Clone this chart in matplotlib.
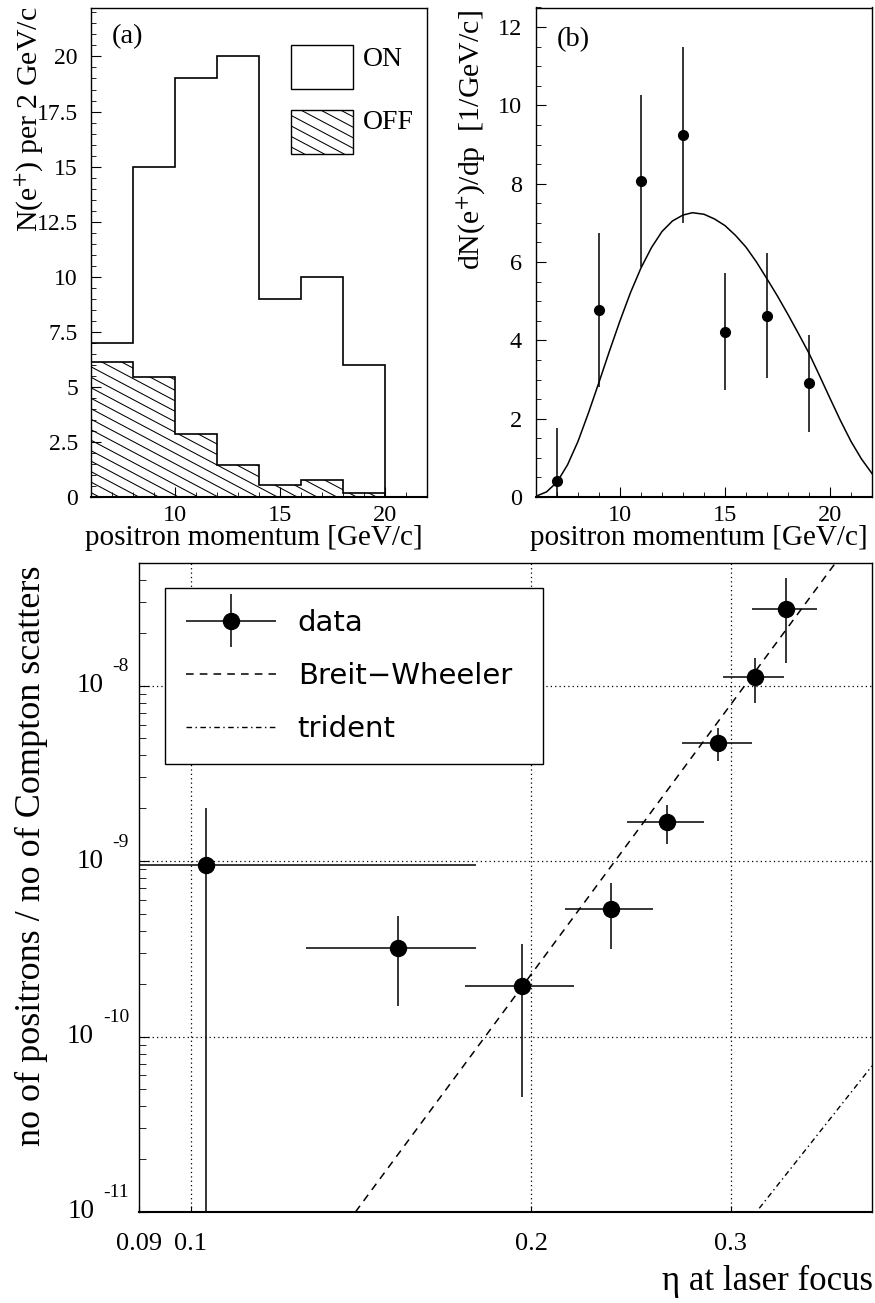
import numpy as np
import matplotlib
matplotlib.use("Agg")
import matplotlib.pyplot as plt
from matplotlib.ticker import (FixedLocator, FixedFormatter, MultipleLocator,
                               LogLocator, NullFormatter, NullLocator)
from matplotlib.patches import Rectangle
from matplotlib.legend_handler import HandlerErrorbar

plt.rcParams['font.family'] = ['Liberation Serif', 'DejaVu Serif']
plt.rcParams['mathtext.fontset'] = 'stix'

# (a) raw positron momentum spectra, laser ON / laser OFF, 2 GeV/c bins
edges_a = [6, 8, 10, 12, 14, 16, 18, 20, 22]
on_counts = [7, 15, 19, 20, 9, 10, 6, 0]
off_counts = [6.15, 5.45, 2.85, 1.47, 0.55, 0.75, 0.18, 0]
a_ticks = [0, 2.5, 5, 7.5, 10, 12.5, 15, 17.5, 20]
a_labels = ["0", "2.5", "5", "7.5", "10", "12.5", "15", "17.5", "20"]

# (b) background subtracted spectrum and simulation
p_mid = [7, 9, 11, 13, 15, 17, 19]
dndp = [0.41, 4.77, 8.07, 9.25, 4.22, 4.63, 2.90]
dndp_err = [1.35, 1.96, 2.20, 2.25, 1.50, 1.60, 1.24]
sim_p = [6.0, 6.5, 7.0, 7.5, 8.0, 8.5, 9.0, 9.5, 10.0, 10.5, 11.0, 11.5,
         12.0, 12.5, 13.0, 13.45, 14.0, 14.5, 15.0, 15.5, 16.0, 16.5, 17.0,
         17.5, 18.0, 18.5, 19.0, 19.5, 20.0, 20.5, 21.0, 21.5, 22.0]
sim_dndp = [0.02, 0.13, 0.38, 0.82, 1.42, 2.15, 2.93, 3.73, 4.5, 5.22, 5.85,
            6.37, 6.78, 7.05, 7.2, 7.26, 7.22, 7.1, 6.93, 6.68, 6.38, 6.0,
            5.57, 5.13, 4.66, 4.17, 3.67, 3.1, 2.52, 1.95, 1.42, 0.97, 0.6]

# (c) positron rate per Compton scatter vs eta
eta = [0.1031, 0.1525, 0.1962, 0.2350, 0.2636, 0.2923, 0.3150, 0.3355]
eta_lo = [0.085, 0.1263, 0.1748, 0.2142, 0.2428, 0.2718, 0.2953, 0.3133]
eta_hi = [0.1786, 0.1786, 0.2182, 0.2562, 0.2842, 0.3133, 0.3347, 0.3574]
rate = [0.95e-9, 3.21e-10, 1.93e-10, 5.33e-10, 1.67e-9, 4.74e-9, 1.125e-8, 2.73e-8]
rate_lo = [1e-12, 1.50e-10, 4.5e-11, 3.14e-10, 1.245e-9, 3.71e-9, 8.0e-9, 1.34e-8]
rate_hi = [2.0e-9, 4.88e-10, 3.37e-10, 7.52e-10, 2.10e-9, 5.77e-9, 1.443e-8, 4.09e-8]
bw_eta = [0.1398, 0.3713]
bw_rate = [1e-11, 5e-8]
tri_eta = [0.318, 0.40]
tri_rate = [1.05e-11, 6.8e-11]
eta_ticks = [0.09, 0.1, 0.2, 0.3]
eta_labels = ["0.09", "0.1", "0.2", "0.3"]
decades = [1e-11, 1e-10, 1e-9, 1e-8]

W, H = 875, 1303


def fx(px):
    return px / W


def fy(py):
    return 1 - py / H


fig = plt.figure(figsize=(W / 100, H / 100), dpi=100)
ax_a = fig.add_axes([fx(91), fy(497), 336 / W, 489 / H])
ax_b = fig.add_axes([fx(536), fy(497), 336 / W, 489.5 / H])
ax_c = fig.add_axes([fx(139), fy(1212), 733 / W, 649 / H])

for ax in (ax_a, ax_b, ax_c):
    for s in ax.spines.values():
        s.set_linewidth(1.0)
    ax.spines['bottom'].set_linewidth(1.5)
    ax.tick_params(which='both', direction='in', top=False, right=False,
                   colors='k')

# ---- (a) ----
ax_a.set_xlim(6, 22)
ax_a.set_ylim(0, 22.2)
off_patch = ax_a.stairs(off_counts, edges_a, fill=False, color='k', lw=1.2, zorder=3)
ax_a.stairs(on_counts, edges_a, fill=False, color='k', lw=1.2, zorder=4)
# diagonal hatching of the OFF histogram
xh = np.array([edges_a[0], edges_a[-1]])
for c in np.arange(0.2, 15.5, 0.476):
    ln, = ax_a.plot(xh, c - 0.505 * (xh - edges_a[0]), color='k', lw=0.75, zorder=2)
    ln.set_clip_path(off_patch)

ax_a.yaxis.set_major_locator(FixedLocator(a_ticks))
ax_a.yaxis.set_major_formatter(FixedFormatter(a_labels))
ax_a.yaxis.set_minor_locator(MultipleLocator(0.5))
ax_a.xaxis.set_major_locator(FixedLocator([10, 15, 20]))
ax_a.xaxis.set_minor_locator(MultipleLocator(1))
ax_a.tick_params(which='major', length=7)
ax_a.tick_params(which='minor', length=3.5)
ax_a.tick_params(axis='y', labelsize=17, pad=9.4)
ax_a.tick_params(axis='x', labelsize=17.5, pad=5.8)

# legend boxes drawn in axes fraction
on_box = Rectangle((0.595, 0.8344), 0.185, 0.0899, transform=ax_a.transAxes,
                   fill=False, ec='k', lw=1.0)
off_box = Rectangle((0.595, 0.7014), 0.185, 0.0900, transform=ax_a.transAxes,
                    fill=False, ec='k', lw=1.0)
ax_a.add_patch(on_box)
ax_a.add_patch(off_box)
xb = np.array([0.58, 0.80])
for c in np.arange(0.70, 0.86, 0.0215):
    ln, = ax_a.plot(xb, c - 0.364 * (xb - 0.58), color='k', lw=0.75,
                    transform=ax_a.transAxes)
    ln.set_clip_path(off_box)
ax_a.text(0.81, 0.8957, "ON", transform=ax_a.transAxes, fontsize=20,
          ha='left', va='center')
ax_a.text(0.81, 0.7658, "OFF", transform=ax_a.transAxes, fontsize=20,
          ha='left', va='center')

# ---- (b) ----
ax_b.set_xlim(6, 22)
ax_b.set_ylim(0, 12.5)
ax_b.errorbar(p_mid, dndp, yerr=dndp_err, fmt='o', color='k', ms=7,
              elinewidth=1.1, capsize=0, zorder=3)
ax_b.plot(sim_p, sim_dndp, color='k', lw=1.1)
ax_b.yaxis.set_major_locator(MultipleLocator(2))
ax_b.yaxis.set_minor_locator(MultipleLocator(0.5))
ax_b.xaxis.set_major_locator(FixedLocator([10, 15, 20]))
ax_b.xaxis.set_minor_locator(MultipleLocator(1))
ax_b.tick_params(which='major', length=7)
ax_b.tick_params(which='minor', length=3.5)
ax_b.tick_params(axis='y', labelsize=17.5, pad=10)
ax_b.tick_params(axis='x', labelsize=17.5, pad=5.8)

# ---- (c) ----
ax_c.set_xscale('log')
ax_c.set_yscale('log')
ax_c.set_xlim(0.09, 0.4)
ax_c.set_ylim(1e-11, 5e-8)
for v in [0.1, 0.2, 0.3]:
    ax_c.axvline(v, color='k', lw=0.9, ls=(0, (1, 2.5)), zorder=1)
for v in decades[1:]:
    ax_c.axhline(v, color='k', lw=0.9, ls=(0, (1, 2.5)), zorder=1)

eta_a = np.array(eta)
rate_a = np.array(rate)
xerr = [eta_a - np.array(eta_lo), np.array(eta_hi) - eta_a]
yerr = [rate_a - np.array(rate_lo), np.array(rate_hi) - rate_a]
data_cont = ax_c.errorbar(eta, rate, xerr=xerr, yerr=yerr, fmt='o', color='k',
                          ms=11.5, elinewidth=1.1, capsize=0, zorder=4,
                          label='data')
bw_line, = ax_c.plot(bw_eta, bw_rate, color='k', lw=1.1, ls=(0, (5, 4)),
                     label='Breit\u2212Wheeler', zorder=3)
tri_line, = ax_c.plot(tri_eta, tri_rate, color='k', lw=1.0, ls=(0, (4, 2.5, 1, 2.5)),
                      label='trident', zorder=3)

ax_c.xaxis.set_major_locator(FixedLocator(eta_ticks))
ax_c.xaxis.set_major_formatter(FixedFormatter(eta_labels))
ax_c.xaxis.set_minor_locator(NullLocator())
ax_c.xaxis.set_minor_formatter(NullFormatter())
ax_c.tick_params(axis='x', which='major', length=4, labelsize=19, pad=15)
ax_c.yaxis.set_major_locator(LogLocator(base=10, numticks=10))
ax_c.yaxis.set_minor_locator(LogLocator(base=10, subs=np.arange(2, 10), numticks=20))
ax_c.yaxis.set_major_formatter(NullFormatter())
ax_c.yaxis.set_minor_formatter(NullFormatter())
ax_c.tick_params(axis='y', which='major', length=7.2)
ax_c.tick_params(axis='y', which='minor', length=5)

leg = ax_c.legend(handles=[data_cont, bw_line, tri_line],
                  loc='upper left', bbox_to_anchor=(0.0355, 0.9615, 0.5157, 0.0),
                  mode='expand', borderaxespad=0, borderpad=0.72,
                  labelspacing=0.86, handlelength=3.08, handletextpad=0.75,
                  numpoints=1, fancybox=False, framealpha=1, edgecolor='k',
                  prop={'family': 'DejaVu Sans', 'size': 21},
                  handler_map={type(data_cont): HandlerErrorbar(xerr_size=1.54,
                                                                yerr_size=0.91)})
leg.get_frame().set_linewidth(1.0)

# decade labels written as 10 with a raised exponent
renderer = fig.canvas.get_renderer()
for v in decades:
    ex = ax_c.annotate("-%d" % int(round(-np.log10(v))), xy=(0, v),
                       xycoords=('axes fraction', 'data'), xytext=(-10, 19),
                       textcoords='offset pixels', ha='right', va='center',
                       fontsize=14)
    w = ex.get_window_extent(renderer).width
    ax_c.annotate("10", xy=(0, v), xycoords=('axes fraction', 'data'),
                  xytext=(-10 - w - 9, 0), textcoords='offset pixels',
                  ha='right', va='center', fontsize=19.5)

# ---- titles and panel tags ----
fig.text(fx(29), fy(7), "N(e$^{+}$) per 2 GeV/c", rotation=90, ha='center',
         va='top', fontsize=21.5)
fig.text(fx(471), fy(10), "dN(e$^{+}$)/dp  [1/GeV/c]", rotation=90,
         ha='center', va='top', fontsize=21.5)
fig.text(fx(423), fy(545), "positron momentum [GeV/c]", ha='right',
         va='baseline', fontsize=21)
fig.text(fx(868), fy(545), "positron momentum [GeV/c]", ha='right',
         va='baseline', fontsize=21)
fig.text(fx(127.5), fy(36.7), "(a)", ha='center', va='center', fontsize=20.5)
fig.text(fx(573), fy(40), "(b)", ha='center', va='center', fontsize=20.5)
fig.text(fx(31), fy(565), "no of positrons / no of Compton scatters",
         rotation=90, ha='center', va='top', fontsize=26)
fig.text(fx(873), fy(1290), "\u03b7 at laser focus", ha='right',
         va='baseline', fontsize=25)

fig.savefig("out.png", dpi=100)
